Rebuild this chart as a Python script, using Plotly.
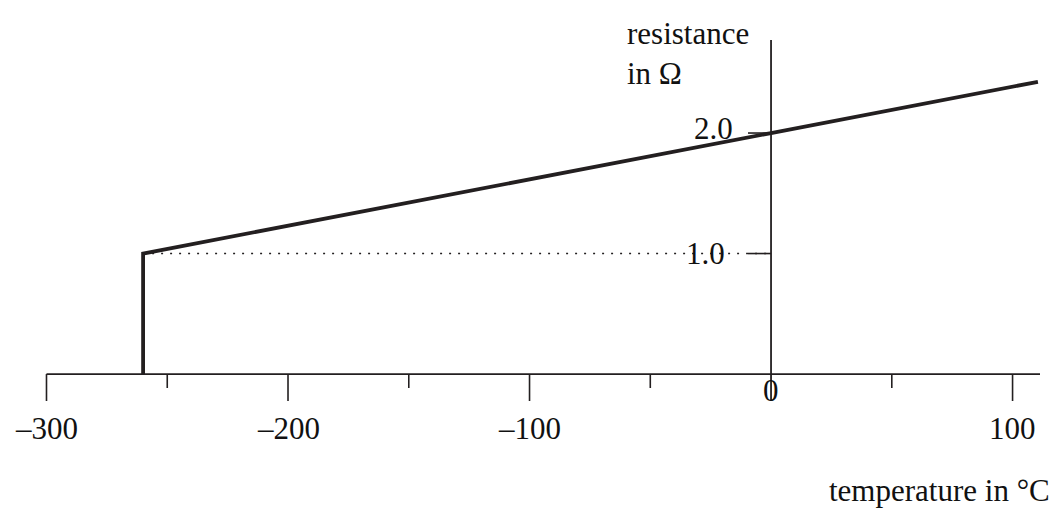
import plotly.graph_objects as go

# ---- data ----
temperature = [-260, -260, 0, 110.5]        # °C
resistance = [0.0, 1.0, 2.0, 2.425]         # Ω
critical_temp = -260
critical_res = 1.0
x_major_ticks = [-300, -200, -100, 0, 100]
x_major_labels = ["\u2013300", "\u2013200", "\u2013100", "0", "100"]
x_minor_ticks = [-250, -150, -50, 50]
y_ticks = [1.0, 2.0]
y_tick_labels = ["1.0", "2.0"]

W, H = 1057, 509
XR = [-319.25, 118.4]
YR = [-1.120, 3.104]

def px_x(px):
    return XR[0] + (XR[1] - XR[0]) * px / W

def px_y(py):
    return YR[1] - (YR[1] - YR[0]) * py / H

FONT = dict(family="Liberation Serif, Times New Roman, serif", size=31, color="#111")
INK = "#231f20"

fig = go.Figure()

# dotted guide at R = 1.0
fig.add_trace(go.Scatter(x=[critical_temp, 0], y=[critical_res, critical_res], mode="lines",
                         line=dict(color=INK, width=1.6, dash="2px,7px"), hoverinfo="skip"))
# main curve
fig.add_trace(go.Scatter(x=temperature, y=resistance, mode="lines",
                         line=dict(color=INK, width=3.8), hoverinfo="skip"))

shapes = []
# x axis line
shapes.append(dict(type="line", xref="x", yref="y", x0=x_major_ticks[0], x1=px_x(1040),
                   y0=0, y1=0, line=dict(color=INK, width=1.8)))
# y axis line
shapes.append(dict(type="line", xref="x", yref="y", x0=0, x1=0,
                   y0=px_y(401), y1=px_y(40), line=dict(color=INK, width=1.8)))
for t in x_major_ticks:
    if t == 0:
        continue
    shapes.append(dict(type="line", xref="x", yref="y", x0=t, x1=t, y0=0, y1=px_y(401),
                       line=dict(color=INK, width=1.6)))
for t in x_minor_ticks:
    shapes.append(dict(type="line", xref="x", yref="y", x0=t, x1=t, y0=0, y1=px_y(388),
                       line=dict(color=INK, width=1.6)))
for v in y_ticks:
    shapes.append(dict(type="line", xref="x", yref="y", x0=px_x(748), x1=0, y0=v, y1=v,
                       line=dict(color=INK, width=1.6)))

annotations = []
for t, lab in zip(x_major_ticks, x_major_labels):
    ypx = 390 if t == 0 else 428
    annotations.append(dict(x=t, y=px_y(ypx), xref="x", yref="y", text=lab, showarrow=False,
                            xanchor="center", yanchor="middle", font=FONT))
label_px = {1.0: (705, 253), 2.0: (713, 128)}
for v, lab in zip(y_ticks, y_tick_labels):
    cx, cy = label_px[v]
    annotations.append(dict(x=px_x(cx), y=px_y(cy), xref="x", yref="y", text=lab, showarrow=False,
                            xanchor="center", yanchor="middle", font=FONT))
annotations.append(dict(x=px_x(625), y=px_y(14), xref="x", yref="y",
                        text="resistance<br>in \u03a9", showarrow=False, align="left",
                        xanchor="left", yanchor="top", font=FONT))
annotations.append(dict(x=px_x(1052), y=px_y(490), xref="x", yref="y",
                        text="temperature in \u00b0C", showarrow=False,
                        xanchor="right", yanchor="middle", font=FONT))

fig.update_layout(
    width=W, height=H, margin=dict(l=0, r=0, t=0, b=0),
    paper_bgcolor="white", plot_bgcolor="white", showlegend=False,
    xaxis=dict(range=XR, visible=False, fixedrange=True),
    yaxis=dict(range=YR, visible=False, fixedrange=True),
    shapes=shapes, annotations=annotations,
)
fig.write_html("out.html", config={"displayModeBar": False},
               post_script="document.body.style.margin='0';document.body.style.overflow='hidden';")
